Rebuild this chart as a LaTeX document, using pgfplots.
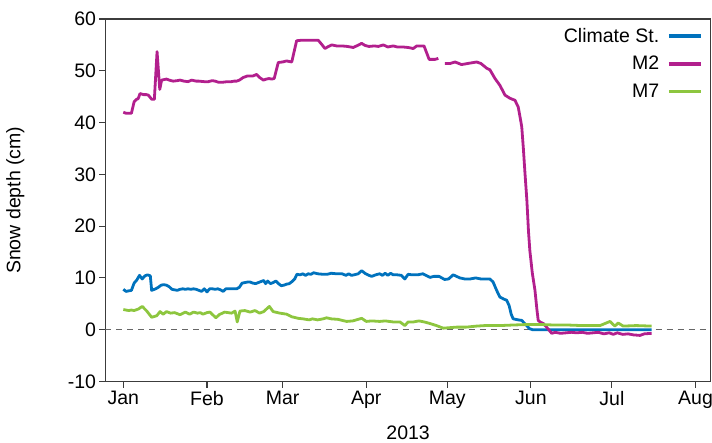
\documentclass[border=0pt]{standalone}
\usepackage{fontspec}
\setmainfont{Liberation Sans}
\usepackage{pgfplots}
\pgfplotsset{compat=1.18}
\definecolor{cblue}{RGB}{0,114,189}
\definecolor{cmag}{RGB}{178,31,141}
\definecolor{cgreen}{RGB}{141,198,63}
\definecolor{axgray}{RGB}{60,60,60}
\begin{document}
\begin{tikzpicture}
\begin{axis}[
  at={(0,0)}, anchor=south west,
  scale only axis, width=605.2bp, height=362.5bp,
  xmin=-6.6, xmax=217.6, ymin=-10, ymax=60,
  axis line style={axgray, line width=1.3bp},
  every tick/.style={axgray, line width=1.1bp},
  tick align=outside, major tick length=6bp,
  tick pos=left,
  xtick={0,31,59,90,120,151,181,212},
  xticklabels={Jan,Feb,Mar,Apr,May,Jun,Jul,Aug},
  ytick={-10,0,10,20,30,40,50,60},
  /pgf/number format/assume math mode=true,
  tick label style={font=\fontsize{19.5bp}{22bp}\selectfont, black},
  label style={font=\fontsize{19.5bp}{22bp}\selectfont},
  xlabel={2013},
  xlabel style={at={(axis description cs:0.5,-0.142)}, anchor=center},
  ylabel={Snow depth (cm)},
  ylabel style={at={(axis description cs:-0.149,0.5)}, anchor=center, rotate=0},
  unbounded coords=jump,
  legend style={draw=none, fill=none, at={(axis description cs:1,1)}, anchor=north east,
    xshift=-8bp, yshift=-7bp, font=\fontsize{19.5bp}{22bp}\selectfont,
    row sep=8.5bp, column sep=6bp, inner sep=0pt},
  legend cell align=right,
  legend plot pos=right,
  legend image code/.code={\draw[#1, line width=3.3bp] (0bp,0bp) -- (32bp,0bp);},
  every axis plot/.append style={line width=2.8bp, line join=round},
]
\addplot[forget plot, line width=1.2bp, color=gray!80!black, dash pattern=on 6bp off 5bp] coordinates {(-6.6,0) (217.6,0)};

\addplot[cblue] coordinates {
(0,7.8)(1,7.4)(2,7.5)(3,7.6)(4,9.0)(5,9.6)(6,10.5)(7,9.8)(8,10.4)(9,10.6)(10,10.4)(10.5,7.6)
(12,7.9)(13,8.2)(14,8.6)(15,8.7)(16,8.6)(17,8.3)(18,7.8)(19,7.7)(20,7.6)(21,7.8)(22,7.9)(23,7.8)
(24,7.9)(25,7.8)(26,7.9)(27,7.8)(28,7.6)(29,7.4)(30,7.9)(31,7.3)(32,7.9)(33,7.9)(34,7.8)(35,7.9)
(36,7.7)(37,7.4)(38,7.9)(39,7.9)(40,7.9)(41,7.9)(42,7.9)(43,8.2)(44,9.0)(45,9.1)(46,9.2)(47,9.2)
(48,9.0)(49,8.9)(50,9.1)(51,9.3)(52,9.5)(52.7,8.9)(53.5,9.4)(54.5,8.9)(55.5,9.1)(56.5,9.4)(57.5,8.9)
(58.5,8.5)(59.5,8.6)(60.5,8.8)(61.5,8.9)(62.5,9.3)(63.5,9.8)(64.3,10.7)(65.5,10.6)(66.5,10.8)
(67.5,10.5)(68.5,10.8)(69.5,10.7)(70.5,11.0)(72,10.8)(74,10.7)(75.5,10.7)(77,10.9)(79,10.8)(81,10.8)
(82.5,10.5)(83.5,10.8)(84.5,10.5)(85.5,10.6)(87,10.8)(88.3,11.4)(89.5,10.9)(91,10.5)(92,10.3)
(93.5,10.6)(95,10.8)(96,10.5)(97,10.9)(98,10.5)(99,10.9)(100,10.6)(101.5,10.6)(103,10.5)(104.3,9.8)
(105.5,10.7)(107,10.6)(109,10.6)(111,10.8)(112.5,10.4)(113.6,10.1)(115,10.3)(117,10.3)(119,9.7)
(120.5,9.8)(122.2,10.6)(124.7,10.0)(126.5,9.8)(128.5,9.8)(130.5,10.0)(132.5,9.8)(135.8,9.8)(137,9.2)
(138.3,7.6)(139.5,6.3)(141,5.9)(142,5.7)(142.9,4.7)(143.7,3.0)(144.4,2.1)(146.3,1.9)(147.6,1.8)
(149.4,0.8)(150.5,0.2)(151.6,0)(160,0)(170,0)(180,0)(190,0)(195.7,0)
};
\addlegendentry{Climate St.}

\addplot[cmag] coordinates {
(0,42.0)(1,41.8)(2,41.8)(3,41.8)(4,44.0)(4.9,44.5)(5.5,44.6)(6.2,45.6)(7.5,45.4)(8.5,45.4)(9.3,45.3)
(10.5,44.5)(11.5,44.5)(12.5,53.7)(13.5,46.4)(14.2,48.2)(16,48.4)(17,48.2)(18.5,48.0)(20,48.1)(21,48.2)
(22.5,48.0)(24,47.9)(25.3,48.2)(27,48.0)(28,48.0)(30,47.9)(31.5,47.9)(33,48.1)(34,48.0)(35.2,47.8)
(37,47.8)(38.5,47.9)(40,47.9)(41,48.0)(42,48.0)(43,48.2)(44.4,48.7)(46,49.0)(48,49.0)(49.4,49.3)
(50.5,48.7)(51.9,48.2)(53,48.4)(54,48.5)(55,48.4)(55.9,48.5)(57.4,51.6)(59,51.7)(60.5,51.9)(62.4,51.7)
(64.2,55.8)(66,55.9)(68,55.9)(70,55.9)(72.2,55.9)(73.5,55.1)(74.7,54.3)(76,54.7)(77.2,55.0)(79,54.8)
(81,54.8)(83,54.7)(85.2,54.5)(86.8,54.9)(88.3,55.3)(89.5,54.9)(91,54.7)(93,54.8)(94.5,54.7)(96.3,55.0)
(98,54.6)(100,54.8)(101.5,54.6)(103.5,54.6)(105.5,54.5)(107.4,54.3)(108.7,54.8)(111.4,54.8)(113.3,52.2)
(115.5,52.2)(116.7,52.4)(117.5,nan)
(119.1,51.4)(121,51.4)(122.9,51.7)(125.3,51.2)(127.5,51.4)(130.9,51.7)(132.5,51.4)(134.6,50.5)
(135.8,50.2)(137.7,48.5)(139.5,47.2)(141.4,45.3)(143.2,44.7)(145.1,44.3)(146.3,43.0)(147,41.0)
(147.6,39.2)(148.2,35.0)(148.8,30.2)(149.5,25)(150.1,19)(150.6,15.3)(151.5,11)(152.5,7.6)(153.2,4)
(153.7,1.8)(154.5,1.45)(155.6,1.2)(156.8,0.5)(158.7,-0.7)(160,-0.5)(162,-0.7)(164,-0.6)(166,-0.5)
(168,-0.6)(170,-0.5)(172,-0.7)(174,-0.6)(176,-0.5)(178,-0.8)(180,-0.6)(181.5,-0.9)(183,-0.6)(185,-0.9)
(187,-0.8)(189,-1.0)(191.4,-1.1)(193,-0.8)(195.7,-0.7)
};
\addlegendentry{M2}

\addplot[cgreen] coordinates {
(0,3.9)(1,3.8)(2,3.7)(3,3.8)(4,3.7)(5.6,4.0)(7,4.5)(8.7,3.6)(10.5,2.4)(12.4,2.7)(13.6,3.5)(14.8,3.0)
(16,3.5)(17.5,3.2)(19,3.3)(21,2.9)(23,3.4)(24.6,3.0)(26,3.4)(27.5,3.2)(28.5,3.3)(29.5,3.0)(31,3.3)
(32.1,3.4)(34.3,2.3)(35.5,2.9)(37.5,3.4)(40.1,3.2)(41.4,3.6)(42.2,1.5)(43.2,3.6)(45,3.7)(47,3.4)
(48.8,3.7)(50.5,3.2)(52,3.5)(54.1,4.5)(55.5,3.5)(58,3.2)(60.5,3.0)(62.4,2.5)(64.8,2.2)(66.5,2.1)
(68.9,1.9)(70,2.1)(72,1.9)(74,2.1)(75.3,2.3)(77,2.1)(79.5,2.0)(82.7,1.6)(85,1.7)(88.3,2.2)(90,1.6)
(92,1.7)(95,1.6)(97,1.7)(100,1.5)(102.5,1.5)(104.3,0.8)(105.5,1.5)(107.5,1.5)(109.5,1.7)(111.5,1.5)
(113.6,1.2)(116,0.8)(118.5,0.3)(121,0.4)(123.5,0.5)(127,0.5)(130.9,0.7)(134,0.8)(139.5,0.8)(144,0.9)
(149.4,1.0)(155,1.0)(160,0.9)(165,0.9)(170,0.8)(176.6,0.8)(180.3,1.6)(182.1,0.7)(183.3,1.3)(185.2,0.7)
(190,0.8)(195.7,0.7)
};
\addlegendentry{M7}
\end{axis}
\pgfresetboundingbox
\path[use as bounding box] (-105.5bp,-61.5bp) rectangle (606.5bp,381.5bp);
\end{tikzpicture}
\end{document}
